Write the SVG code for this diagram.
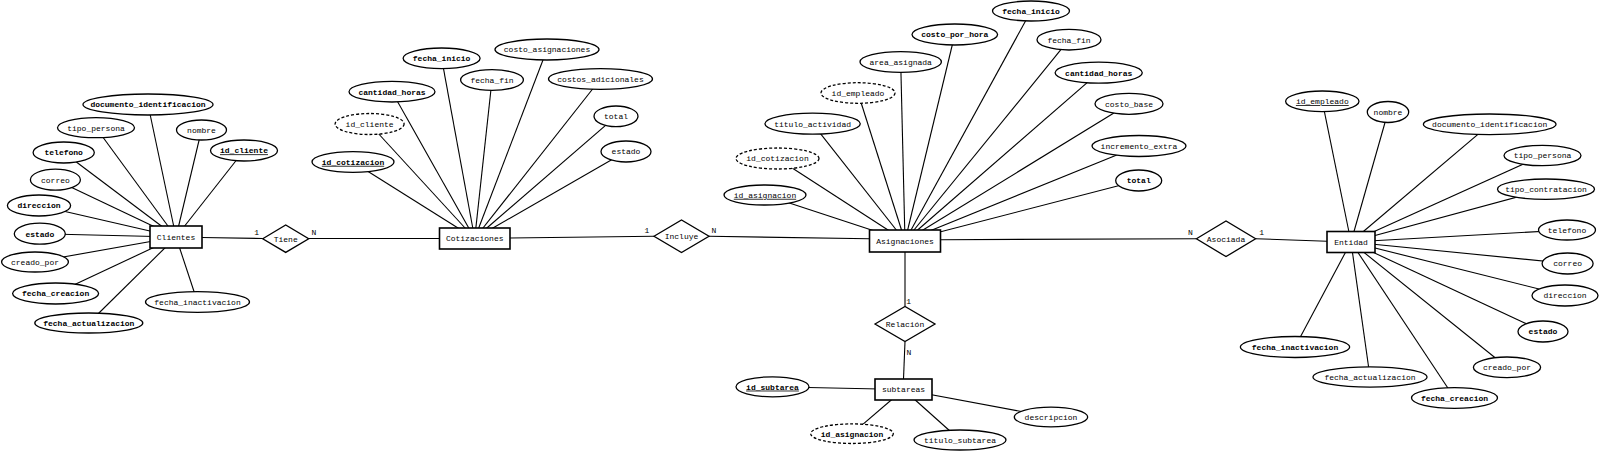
<svg xmlns="http://www.w3.org/2000/svg" width="1600" height="451" viewBox="0 0 1600 451">
<style>
text{font-family:"Liberation Mono","DejaVu Sans Mono",monospace;font-size:8px;fill:#000;text-anchor:middle}
.b{font-weight:bold}
.u{text-decoration:underline}
.ent{fill:#fff;stroke:#000;stroke-width:1.6}
.att{fill:#fff;stroke:#000;stroke-width:1.3}
.wk{fill:#fff;stroke:#000;stroke-width:1.3;stroke-dasharray:3 2}
.rel{fill:#fff;stroke:#000;stroke-width:1.3}
.c line{stroke:#000;stroke-width:1.1}
</style>
<rect width="1600" height="451" fill="#fff"/>
<g id="connectors" class="c">
<!-- Clientes attrs -->
<line x1="176" y1="237" x2="148" y2="104.5"/>
<line x1="176" y1="237" x2="96" y2="127.7"/>
<line x1="176" y1="237" x2="201.5" y2="130"/>
<line x1="176" y1="237" x2="244" y2="150.5"/>
<line x1="176" y1="237" x2="63.7" y2="152.5"/>
<line x1="176" y1="237" x2="55.4" y2="179.7"/>
<line x1="176" y1="237" x2="39" y2="205.5"/>
<line x1="176" y1="237" x2="39.8" y2="233.7"/>
<line x1="176" y1="237" x2="35" y2="262"/>
<line x1="176" y1="237" x2="55.6" y2="293.5"/>
<line x1="176" y1="237" x2="88.8" y2="323"/>
<line x1="176" y1="237" x2="197.5" y2="302"/>
<!-- Cotizaciones attrs -->
<line x1="474.7" y1="238.5" x2="353" y2="162"/>
<line x1="474.7" y1="238.5" x2="369.6" y2="124"/>
<line x1="474.7" y1="238.5" x2="392" y2="91.7"/>
<line x1="474.7" y1="238.5" x2="441.6" y2="58.3"/>
<line x1="474.7" y1="238.5" x2="492" y2="80"/>
<line x1="474.7" y1="238.5" x2="547" y2="49.5"/>
<line x1="474.7" y1="238.5" x2="600.5" y2="79"/>
<line x1="474.7" y1="238.5" x2="616" y2="116.3"/>
<line x1="474.7" y1="238.5" x2="626" y2="151.5"/>
<!-- Asignaciones attrs -->
<line x1="905" y1="241" x2="765" y2="195"/>
<line x1="905" y1="241" x2="777.5" y2="158.5"/>
<line x1="905" y1="241" x2="812.6" y2="123.7"/>
<line x1="905" y1="241" x2="858" y2="93"/>
<line x1="905" y1="241" x2="900.7" y2="62"/>
<line x1="905" y1="241" x2="954.8" y2="34.5"/>
<line x1="905" y1="241" x2="1031" y2="11"/>
<line x1="905" y1="241" x2="1069" y2="39.7"/>
<line x1="905" y1="241" x2="1098.7" y2="72.7"/>
<line x1="905" y1="241" x2="1129" y2="103.8"/>
<line x1="905" y1="241" x2="1139" y2="146"/>
<line x1="905" y1="241" x2="1138.7" y2="180.5"/>
<!-- subtareas attrs -->
<line x1="903.5" y1="389.5" x2="772.5" y2="386.8"/>
<line x1="903.5" y1="389.5" x2="852" y2="433.7"/>
<line x1="903.5" y1="389.5" x2="960" y2="440"/>
<line x1="903.5" y1="389.5" x2="1051" y2="417"/>
<!-- Entidad attrs -->
<line x1="1351" y1="242" x2="1322.3" y2="101.3"/>
<line x1="1351" y1="242" x2="1388" y2="112"/>
<line x1="1351" y1="242" x2="1489.7" y2="124.3"/>
<line x1="1351" y1="242" x2="1542.5" y2="155.5"/>
<line x1="1351" y1="242" x2="1546" y2="189.2"/>
<line x1="1351" y1="242" x2="1567" y2="230"/>
<line x1="1351" y1="242" x2="1567.6" y2="263.5"/>
<line x1="1351" y1="242" x2="1565" y2="295.5"/>
<line x1="1351" y1="242" x2="1543" y2="331.5"/>
<line x1="1351" y1="242" x2="1507" y2="367.3"/>
<line x1="1351" y1="242" x2="1454.5" y2="398"/>
<line x1="1351" y1="242" x2="1370" y2="377"/>
<line x1="1351" y1="242" x2="1295" y2="347"/>
<!-- relationships -->
<line x1="202" y1="237.5" x2="262.7" y2="238.5"/>
<line x1="308.7" y1="238.5" x2="439.5" y2="238.5"/>
<line x1="510" y1="238" x2="654" y2="236.3"/>
<line x1="709" y1="236.3" x2="869.5" y2="238.7"/>
<line x1="905" y1="252" x2="905" y2="306.5"/>
<line x1="905" y1="341.5" x2="903.5" y2="379"/>
<line x1="940.5" y1="239.7" x2="1196.4" y2="238.7"/>
<line x1="1255.6" y1="238.7" x2="1327" y2="241.3"/>
<text x="256.6" y="235">1</text>
<text x="313.8" y="235">N</text>
<text x="647" y="232.7">1</text>
<text x="714" y="232.7">N</text>
<text x="908.7" y="304.4">1</text>
<text x="909" y="355">N</text>
<text x="1190.3" y="235">N</text>
<text x="1261.7" y="235">1</text>
</g>
<g id="Clientes"><rect class="ent" x="150" y="226" width="52" height="22"/><text x="176" y="239.8">Clientes</text></g>
<g id="Clientes_documento_identificacion"><ellipse class="att" cx="148" cy="104.5" rx="65" ry="10.5"/><text class="b" x="148" y="107.3">documento_identificacion</text></g>
<g id="Clientes_tipo_persona"><ellipse class="att" cx="96" cy="127.7" rx="38.5" ry="10"/><text x="96" y="130.5">tipo_persona</text></g>
<g id="Clientes_nombre"><ellipse class="att" cx="201.5" cy="130" rx="25" ry="10"/><text x="201.5" y="132.8">nombre</text></g>
<g id="Clientes_id_cliente"><ellipse class="att" cx="244" cy="150.5" rx="33.5" ry="10.5"/><text class="b u" x="244" y="153.3">id_cliente</text></g>
<g id="Clientes_telefono"><ellipse class="att" cx="63.7" cy="152.5" rx="30.6" ry="10.5"/><text class="b" x="63.7" y="155.3">telefono</text></g>
<g id="Clientes_correo"><ellipse class="att" cx="55.4" cy="179.7" rx="25" ry="10.5"/><text x="55.4" y="182.5">correo</text></g>
<g id="Clientes_direccion"><ellipse class="att" cx="39" cy="205.5" rx="31.6" ry="10.5"/><text class="b" x="39" y="208.3">direccion</text></g>
<g id="Clientes_estado"><ellipse class="att" cx="39.8" cy="233.7" rx="25.5" ry="10.5"/><text class="b" x="39.8" y="236.5">estado</text></g>
<g id="Clientes_creado_por"><ellipse class="att" cx="35" cy="262" rx="33.4" ry="10"/><text x="35" y="264.8">creado_por</text></g>
<g id="Clientes_fecha_creacion"><ellipse class="att" cx="55.6" cy="293.5" rx="43" ry="10.5"/><text class="b" x="55.6" y="296.3">fecha_creacion</text></g>
<g id="Clientes_fecha_actualizacion"><ellipse class="att" cx="88.8" cy="323" rx="54" ry="10"/><text class="b" x="88.8" y="325.8">fecha_actualizacion</text></g>
<g id="Clientes_fecha_inactivacion"><ellipse class="att" cx="197.5" cy="302" rx="52" ry="10.3"/><text x="197.5" y="304.8">fecha_inactivacion</text></g>
<g id="Tiene"><polygon class="rel" points="262.7,238.7 285.7,225 308.7,238.7 285.7,252.4"/><text x="285.7" y="241.5">Tiene</text></g>
<g id="Cotizaciones"><rect class="ent" x="439.5" y="228" width="70.5" height="21"/><text x="474.7" y="241.3">Cotizaciones</text></g>
<g id="Cot_id_cotizacion"><ellipse class="att" cx="353" cy="162" rx="41" ry="10.3"/><text class="b u" x="353" y="164.8">id_cotizacion</text></g>
<g id="Cot_id_cliente"><ellipse class="wk" cx="369.6" cy="124" rx="34.5" ry="10.5"/><text x="369.6" y="126.8">id_cliente</text></g>
<g id="Cot_cantidad_horas"><ellipse class="att" cx="392" cy="91.7" rx="43" ry="10.3"/><text class="b" x="392" y="94.5">cantidad_horas</text></g>
<g id="Cot_fecha_inicio"><ellipse class="att" cx="441.6" cy="58.3" rx="38.5" ry="10.3"/><text class="b" x="441.6" y="61.1">fecha_inicio</text></g>
<g id="Cot_fecha_fin"><ellipse class="att" cx="492" cy="80" rx="31.4" ry="10.3"/><text x="492" y="82.8">fecha_fin</text></g>
<g id="Cot_costo_asignaciones"><ellipse class="att" cx="547" cy="49.5" rx="52" ry="10.5"/><text x="547" y="52.3">costo_asignaciones</text></g>
<g id="Cot_costos_adicionales"><ellipse class="att" cx="600.5" cy="79" rx="52" ry="10.3"/><text x="600.5" y="81.8">costos_adicionales</text></g>
<g id="Cot_total"><ellipse class="att" cx="616" cy="116.3" rx="22" ry="10.3"/><text x="616" y="119.1">total</text></g>
<g id="Cot_estado"><ellipse class="att" cx="626" cy="151.5" rx="25" ry="10.5"/><text x="626" y="154.3">estado</text></g>
<g id="Incluye"><polygon class="rel" points="654,236.3 681.5,220 709,236.3 681.5,252.6"/><text x="681.5" y="239.1">Incluye</text></g>
<g id="Asignaciones"><rect class="ent" x="869.5" y="230" width="71" height="22"/><text x="905" y="243.8">Asignaciones</text></g>
<g id="Asig_id_asignacion"><ellipse class="att" cx="765" cy="195" rx="41" ry="10"/><text class="u" x="765" y="197.8">id_asignacion</text></g>
<g id="Asig_id_cotizacion"><ellipse class="wk" cx="777.5" cy="158.5" rx="41.5" ry="10.5"/><text x="777.5" y="161.3">id_cotizacion</text></g>
<g id="Asig_titulo_actividad"><ellipse class="att" cx="812.6" cy="123.7" rx="47.7" ry="10.5"/><text x="812.6" y="126.5">titulo_actividad</text></g>
<g id="Asig_id_empleado"><ellipse class="wk" cx="858" cy="93" rx="37" ry="10.3"/><text x="858" y="95.8">id_empleado</text></g>
<g id="Asig_area_asignada"><ellipse class="att" cx="900.7" cy="62" rx="40.7" ry="10.3"/><text x="900.7" y="64.8">area_asignada</text></g>
<g id="Asig_costo_por_hora"><ellipse class="att" cx="954.8" cy="34.5" rx="42.8" ry="10.5"/><text class="b" x="954.8" y="37.3">costo_por_hora</text></g>
<g id="Asig_fecha_inicio"><ellipse class="att" cx="1031" cy="11" rx="38.5" ry="10"/><text class="b" x="1031" y="13.8">fecha_inicio</text></g>
<g id="Asig_fecha_fin"><ellipse class="att" cx="1069" cy="39.7" rx="32" ry="10.3"/><text x="1069" y="42.5">fecha_fin</text></g>
<g id="Asig_cantidad_horas"><ellipse class="att" cx="1098.7" cy="72.7" rx="43.6" ry="10.5"/><text class="b" x="1098.7" y="75.5">cantidad_horas</text></g>
<g id="Asig_costo_base"><ellipse class="att" cx="1129" cy="103.8" rx="34" ry="10.5"/><text x="1129" y="106.6">costo_base</text></g>
<g id="Asig_incremento_extra"><ellipse class="att" cx="1139" cy="146" rx="47" ry="10.5"/><text x="1139" y="148.8">incremento_extra</text></g>
<g id="Asig_total"><ellipse class="att" cx="1138.7" cy="180.5" rx="23" ry="10.5"/><text class="b" x="1138.7" y="183.3">total</text></g>
<g id="Relacion"><polygon class="rel" points="875,324 905,306.5 935,324 905,341.5"/><text x="905" y="326.8">Relación</text></g>
<g id="subtareas"><rect class="ent" x="875" y="379" width="57" height="21"/><text x="903.5" y="392.3">subtareas</text></g>
<g id="Sub_id_subtarea"><ellipse class="att" cx="772.5" cy="386.8" rx="36.5" ry="10"/><text class="b u" x="772.5" y="389.6">id_subtarea</text></g>
<g id="Sub_id_asignacion"><ellipse class="wk" cx="852" cy="433.7" rx="41.3" ry="9.8"/><text class="b" x="852" y="436.5">id_asignacion</text></g>
<g id="Sub_titulo_subtarea"><ellipse class="att" cx="960" cy="440" rx="46" ry="10"/><text x="960" y="442.8">titulo_subtarea</text></g>
<g id="Sub_descripcion"><ellipse class="att" cx="1051" cy="417" rx="36.7" ry="9.8"/><text x="1051" y="419.8">descripcion</text></g>
<g id="Asociada"><polygon class="rel" points="1196.4,238.8 1226,221 1255.6,238.8 1226,256.6"/><text x="1226" y="241.6">Asociada</text></g>
<g id="Entidad"><rect class="ent" x="1327" y="231.5" width="48" height="21"/><text x="1351" y="244.8">Entidad</text></g>
<g id="Ent_id_empleado"><ellipse class="att" cx="1322.3" cy="101.3" rx="36.7" ry="10.3"/><text class="u" x="1322.3" y="104.1">id_empleado</text></g>
<g id="Ent_nombre"><ellipse class="att" cx="1388" cy="112" rx="20.7" ry="10.5"/><text x="1388" y="114.8">nombre</text></g>
<g id="Ent_documento_identificacion"><ellipse class="att" cx="1489.7" cy="124.3" rx="66.3" ry="10.3"/><text x="1489.7" y="127.1">documento_identificacion</text></g>
<g id="Ent_tipo_persona"><ellipse class="att" cx="1542.5" cy="155.5" rx="38.5" ry="10.2"/><text x="1542.5" y="158.3">tipo_persona</text></g>
<g id="Ent_tipo_contratacion"><ellipse class="att" cx="1546" cy="189.2" rx="48.5" ry="10.2"/><text x="1546" y="192">tipo_contratacion</text></g>
<g id="Ent_telefono"><ellipse class="att" cx="1567" cy="230" rx="28.5" ry="10"/><text x="1567" y="232.8">telefono</text></g>
<g id="Ent_correo"><ellipse class="att" cx="1567.6" cy="263.5" rx="25.5" ry="10.5"/><text x="1567.6" y="266.3">correo</text></g>
<g id="Ent_direccion"><ellipse class="att" cx="1565" cy="295.5" rx="33" ry="10.5"/><text x="1565" y="298.3">direccion</text></g>
<g id="Ent_estado"><ellipse class="att" cx="1543" cy="331.5" rx="25" ry="10.5"/><text class="b" x="1543" y="334.3">estado</text></g>
<g id="Ent_creado_por"><ellipse class="att" cx="1507" cy="367.3" rx="33.6" ry="10.3"/><text x="1507" y="370.1">creado_por</text></g>
<g id="Ent_fecha_creacion"><ellipse class="att" cx="1454.5" cy="398" rx="43" ry="10.3"/><text class="b" x="1454.5" y="400.8">fecha_creacion</text></g>
<g id="Ent_fecha_actualizacion"><ellipse class="att" cx="1370" cy="377" rx="57" ry="10.2"/><text x="1370" y="379.8">fecha_actualizacion</text></g>
<g id="Ent_fecha_inactivacion"><ellipse class="att" cx="1295" cy="347" rx="54.6" ry="10.5"/><text class="b" x="1295" y="349.8">fecha_inactivacion</text></g>
</svg>
